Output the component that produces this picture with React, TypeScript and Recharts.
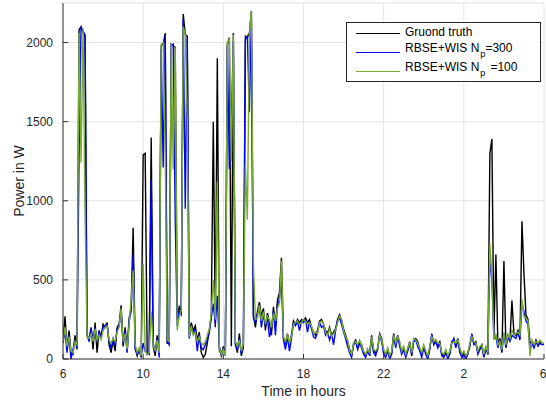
import { CartesianGrid, Legend, Line, LineChart, XAxis, YAxis } from "recharts";

// samples every 0.1 h starting at 06:00 (one row of ten per hour)
const startHour = 6;
const stepHours = 0.1;

const groundTruthW = [
  120, 270, 60, 180, 40, 30, 150, 60, 2080, 2100,
  2060, 2040, 150, 120, 200, 60, 230, 40, 180, 140,
  220, 200, 230, 90, 40, 120, 50, 200, 220, 340,
  80, 200, 50, 260, 320, 830, 80, 20, 60, 10,
  1290, 1300, 30, 40, 1400, 80, 20, 150, 60, 1980,
  1990, 2060, 100, 100, 1990, 1980, 1970, 250, 330, 300,
  2180, 2050, 2040, 150, 230, 180, 210, 120, 170, 40,
  10, 30, 100, 180, 280, 1500, 200, 1900, 60, 20,
  80, 30, 1990, 2030, 80, 2060, 100, 40, 160, 20,
  90, 2040, 2030, 2060, 2200, 280, 200, 300, 360, 270,
  320, 180, 290, 230, 150, 330, 210, 370, 420, 640,
  130, 100, 160, 90, 150, 240, 220, 250, 230, 250,
  240, 260, 230, 250, 200, 170, 150, 180, 240, 250,
  220, 180, 160, 200, 150, 170, 190, 250, 280, 240,
  190, 150, 110, 60, 20, 100, 120, 80, 110, 90,
  40, 20, 50, 30, 150, 50, 40, 60, 160, 130,
  50, 20, 60, 10, 40, 160, 90, 150, 100, 40,
  70, 20, 60, 110, 20, 120, 130, 110, 60, 30,
  80, 40, 10, 70, 150, 100, 120, 90, 110, 30,
  20, 50, 10, 40, 110, 120, 90, 130, 60, 20,
  40, 10, 30, 90, 150, 100, 110, 40, 70, 90,
  20, 70, 30, 1300, 1390, 150, 660, 80, 130, 40,
  620, 80, 150, 120, 370, 160, 150, 180, 130, 870,
  540, 280, 250, 100, 110, 80, 120, 90, 110, 100,
  90,
];

const np300W = [
  100, 180, 40, 150, 0, 60, 120, 70, 1270, 2100,
  2070, 2050, 160, 110, 190, 120, 200, 110, 170, 130,
  200, 210, 220, 110, 70, 130, 90, 190, 210, 300,
  100, 180, 40, 240, 300, 660, 60, 30, 50, 20,
  100, 50, 40, 30, 1130, 100, 40, 130, 10, 1960,
  1210, 2050, 110, 90, 1980, 1990, 880, 210, 300, 280,
  2150, 950, 2030, 130, 200, 160, 190, 50, 150, 70,
  60, 90, 120, 170, 260, 350, 220, 400, 80, 30,
  60, 20, 1980, 1200, 1500, 2010, 90, 60, 130, 30,
  70, 2020, 2040, 1560, 2150, 260, 230, 280, 330, 200,
  290, 210, 260, 140, 190, 300, 150, 340, 380, 500,
  120, 60, 140, 50, 130, 230, 210, 240, 180, 240,
  230, 250, 170, 240, 190, 140, 130, 170, 230, 200,
  210, 150, 170, 120, 160, 90, 180, 240, 260, 220,
  170, 130, 80, 40, 10, 90, 110, 60, 100, 70,
  30, 10, 60, 20, 130, 40, 20, 70, 150, 110,
  30, 10, 50, 0, 30, 150, 70, 140, 80, 30,
  60, 10, 50, 100, 30, 110, 120, 80, 50, 10,
  70, 30, 0, 60, 160, 90, 110, 70, 100, 20,
  10, 40, 0, 30, 100, 130, 70, 120, 40, 10,
  30, 0, 40, 80, 160, 90, 100, 30, 60, 80,
  10, 60, 40, 650, 500, 130, 140, 70, 120, 50,
  160, 70, 140, 110, 150, 140, 130, 170, 120, 350,
  300, 240, 220, 60, 100, 70, 110, 80, 100, 90,
  100,
];

const np100W = [
  110, 200, 80, 140, 50, 40, 110, 90, 2060, 1240,
  2090, 920, 140, 130, 160, 110, 190, 120, 150, 120,
  180, 200, 210, 120, 100, 130, 110, 170, 200, 320,
  110, 160, 60, 220, 380, 560, 90, 40, 70, 20,
  600, 50, 30, 40, 300, 90, 50, 120, 40, 1990,
  2000, 1300, 120, 110, 1990, 1200, 1970, 180, 270, 310,
  2100, 2050, 1500, 140, 210, 150, 170, 110, 140, 100,
  90, 110, 150, 190, 300, 500, 250, 1120, 70, 30,
  60, 20, 2000, 2020, 1250, 2050, 110, 80, 120, 50,
  100, 1230, 880, 2050, 2200, 600, 250, 260, 340, 240,
  300, 220, 270, 250, 200, 290, 240, 320, 350, 620,
  140, 110, 150, 100, 140, 220, 230, 240, 220, 230,
  250, 240, 220, 230, 210, 160, 170, 160, 230, 240,
  220, 170, 150, 190, 140, 160, 180, 230, 270, 250,
  180, 140, 120, 50, 30, 100, 110, 90, 120, 80,
  50, 30, 60, 40, 140, 60, 50, 70, 150, 120,
  60, 30, 70, 20, 50, 150, 100, 140, 110, 50,
  80, 30, 70, 100, 40, 130, 120, 100, 70, 40,
  90, 50, 20, 80, 140, 110, 120, 100, 100, 40,
  30, 60, 20, 50, 100, 110, 100, 120, 70, 30,
  50, 20, 40, 100, 140, 110, 100, 50, 80, 90,
  30, 80, 40, 730, 520, 120, 160, 90, 110, 60,
  170, 90, 150, 130, 180, 150, 160, 170, 150, 380,
  270, 260, 240, 20, 120, 90, 110, 100, 120, 100,
  100,
];

const xTicks = [6, 10, 14, 18, 22, 26, 30];
const xTickLabels = ["6", "10", "14", "18", "22", "2", "6"];
const yTicks = [0, 500, 1000, 1500, 2000];

const rows = groundTruthW.map((w, i) => ({
  t: startHour + i * stepHours,
  truth: w,
  np300: np300W[i],
  np100: np100W[i],
}));

const font = "'Liberation Sans', Arial, Helvetica, sans-serif";
const axisColor = "#333333";
const tickStyle = { fill: "#262626", fontSize: 12, fontFamily: font };

function LegendBox() {
  const entries = [
    { color: "#000000", main: "Gruond truth", sub: "", gap: 0, rest: "" },
    { color: "#0000ff", main: "RBSE+WIS N", sub: "p", gap: 0, rest: "=300" },
    { color: "#77ac30", main: "RBSE+WIS N", sub: "p", gap: 5, rest: "=100" },
  ];
  const lineY = [10, 29, 48];
  return (
    <div
      style={{
        position: "relative",
        width: 195,
        height: 60,
        boxSizing: "border-box",
        border: "1px solid #262626",
        background: "#fff",
        fontFamily: font,
        fontSize: 12,
        color: "#000",
      }}
    >
      {entries.map((e, i) => (
        <div key={e.main + i}>
          <div
            style={{
              position: "absolute",
              left: 9,
              top: lineY[i],
              width: 44,
              height: 0,
              borderTop: `1px solid ${e.color}`,
            }}
          />
          <div
            style={{
              position: "absolute",
              left: 58,
              top: lineY[i] - (e.sub ? 11 : 8),
              whiteSpace: "pre",
              lineHeight: "14px",
            }}
          >
            {e.main}
            {e.sub && (
              <span
                style={{ fontSize: 9, position: "relative", top: 5, marginLeft: 1, marginRight: e.gap }}
              >
                {e.sub}
              </span>
            )}
            {e.rest}
          </div>
        </div>
      ))}
    </div>
  );
}

export default function App() {
  return (
    <div style={{ position: "absolute", left: 0, top: 0, width: 546, height: 402, background: "#fff" }}>
      <LineChart
        width={546}
        height={402}
        data={rows}
        margin={{ top: 3, right: 2, bottom: 0, left: 0 }}
        style={{ fontFamily: font }}
      >
        <CartesianGrid stroke="#e3e3e3" />
        <XAxis
          dataKey="t"
          type="number"
          domain={[6, 30]}
          allowDataOverflow
          ticks={xTicks}
          tickFormatter={(v: number) => xTickLabels[xTicks.indexOf(v)] ?? String(v)}
          height={43}
          tickSize={-5}
          tickMargin={15}
          tick={tickStyle}
          axisLine={{ stroke: axisColor }}
          tickLine={{ stroke: axisColor }}
          label={{
            value: "Time in hours",
            position: "insideBottom",
            offset: 6,
            style: { fill: "#262626", fontSize: 14, fontFamily: font },
          }}
        />
        <XAxis
          xAxisId="top"
          orientation="top"
          dataKey="t"
          type="number"
          domain={[6, 30]}
          allowDataOverflow
          ticks={xTicks}
          height={0}
          tickSize={-5}
          tick={false}
          axisLine={{ stroke: axisColor }}
          tickLine={{ stroke: axisColor }}
        />
        <YAxis
          type="number"
          domain={[0, 2250]}
          allowDataOverflow
          ticks={yTicks}
          width={63}
          tickSize={-5}
          tickMargin={15}
          tick={tickStyle}
          axisLine={{ stroke: axisColor }}
          tickLine={{ stroke: axisColor }}
          label={{
            value: "Power in W",
            angle: -90,
            position: "insideLeft",
            offset: 19,
            style: { fill: "#262626", fontSize: 14, fontFamily: font, textAnchor: "middle" },
          }}
        />
        <YAxis
          yAxisId="right"
          orientation="right"
          type="number"
          domain={[0, 2250]}
          allowDataOverflow
          ticks={yTicks}
          width={0}
          tickSize={-5}
          tick={false}
          axisLine={{ stroke: axisColor }}
          tickLine={{ stroke: axisColor }}
        />
        <Line
          type="linear"
          dataKey="truth"
          name="Gruond truth"
          stroke="#000000"
          strokeWidth={1.4}
          dot={false}
          isAnimationActive={false}
        />
        <Line
          type="linear"
          dataKey="np300"
          name="RBSE+WIS Np=300"
          stroke="#0000ff"
          strokeWidth={1.4}
          dot={false}
          isAnimationActive={false}
        />
        <Line
          type="linear"
          dataKey="np100"
          name="RBSE+WIS Np =100"
          stroke="#77ac30"
          strokeWidth={1.4}
          dot={false}
          isAnimationActive={false}
        />
        <Legend
          layout="vertical"
          align="center"
          verticalAlign="middle"
          wrapperStyle={{ left: 346, top: 22, width: 195, height: 60 }}
          content={() => <LegendBox />}
        />
      </LineChart>
    </div>
  );
}
